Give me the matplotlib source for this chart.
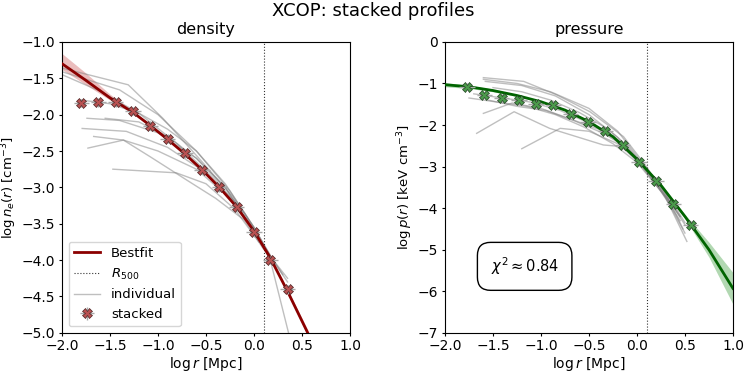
import numpy as np
import matplotlib
matplotlib.use("Agg")
import matplotlib.pyplot as plt

# stacked points (log r [Mpc], log value)
ne_r = [-1.80, -1.62, -1.44, -1.26, -1.08, -0.90, -0.72, -0.54, -0.36, -0.18, 0.0, 0.17, 0.35]
ne_y = [-1.84, -1.83, -1.83, -1.95, -2.15, -2.33, -2.53, -2.76, -3.00, -3.27, -3.62, -4.00, -4.40]
p_r = [-1.77, -1.59, -1.41, -1.23, -1.05, -0.87, -0.69, -0.51, -0.33, -0.15, 0.02, 0.20, 0.38, 0.56]
p_y = [-1.08, -1.28, -1.34, -1.41, -1.49, -1.52, -1.74, -1.93, -2.14, -2.48, -2.90, -3.34, -3.90, -4.40]

# best fit curves and band half widths
ne_fit_r = [-2.0, -1.75, -1.5, -1.26, -1.08, -0.9, -0.72, -0.54, -0.36, -0.18, 0.0, 0.17, 0.35, 0.56]
ne_fit_y = [-1.30, -1.53, -1.77, -1.97, -2.15, -2.34, -2.54, -2.76, -3.00, -3.27, -3.60, -3.97, -4.43, -5.00]
ne_fit_lo = [0.08, 0.06, 0.03, 0.01, 0.01, 0.01, 0.01, 0.01, 0.01, 0.01, 0.01, 0.02, 0.03, 0.04]
ne_fit_hi = [0.14, 0.10, 0.05, 0.02, 0.01, 0.01, 0.01, 0.01, 0.01, 0.01, 0.01, 0.02, 0.03, 0.04]
p_fit_r = [-2.0, -1.75, -1.5, -1.25, -1.0, -0.75, -0.5, -0.25, 0.0, 0.25, 0.5, 0.75, 1.0]
p_fit_y = [-1.03, -1.08, -1.17, -1.29, -1.44, -1.64, -1.92, -2.28, -2.82, -3.45, -4.20, -5.00, -5.93]
p_fit_err = [0.05, 0.04, 0.03, 0.02, 0.02, 0.02, 0.02, 0.02, 0.02, 0.03, 0.05, 0.18, 0.38]

# individual clusters
ne_ind = [
    ([-2.0, -1.31, -0.95, -0.56, -0.22, 0.0, 0.17, 0.35], [-1.36, -1.59, -2.05, -2.62, -3.13, -3.55, -3.95, -4.30]),
    ([-2.0, -1.40, -1.0, -0.6, -0.25, 0.0, 0.17], [-1.41, -1.66, -2.00, -2.50, -3.05, -3.55, -3.95]),
    ([-2.0, -1.6, -1.2, -0.8, -0.4, -0.1, 0.1, 0.3], [-1.45, -1.68, -1.98, -2.40, -2.90, -3.35, -3.80, -4.20]),
    ([-1.74, -1.4, -1.0, -0.6, -0.3, 0.0, 0.17], [-2.05, -2.08, -2.25, -2.60, -3.00, -3.60, -3.95]),
    ([-1.79, -1.33, -0.9, -0.5, -0.2, 0.0], [-2.19, -2.23, -2.45, -2.80, -3.20, -3.60]),
    ([-1.67, -1.36, -1.0, -0.6, -0.25, 0.0, 0.17, 0.36], [-2.30, -2.35, -2.50, -2.75, -3.15, -3.60, -4.00, -5.00]),
    ([-1.73, -1.36, -1.08, -0.7, -0.4, -0.1, 0.1], [-2.46, -2.35, -2.58, -2.90, -3.15, -3.45, -3.85]),
    ([-1.47, -0.81, -0.5, -0.2, 0.05], [-2.75, -2.80, -2.95, -3.30, -3.75]),
    ([-1.8, -1.5, -1.2, -0.9, -0.6, -0.3, 0.0, 0.2, 0.35], [-1.80, -1.85, -1.98, -2.20, -2.50, -2.95, -3.55, -4.00, -4.25]),
    ([-1.55, -1.2, -0.9, -0.6, -0.3, -0.05], [-2.05, -2.10, -2.30, -2.60, -3.00, -3.50]),
]
p_ind = [
    ([-1.60, -1.18, -0.84, -0.49, -0.14, 0.10, 0.30, 0.52], [-0.86, -0.95, -1.27, -1.68, -2.28, -3.00, -3.75, -4.80]),
    ([-1.60, -1.25, -0.9, -0.5, -0.2, 0.05, 0.3, 0.48], [-0.90, -1.00, -1.20, -1.60, -2.15, -2.90, -3.65, -4.50]),
    ([-1.58, -1.2, -0.85, -0.5, -0.2, 0.05, 0.3, 0.5], [-0.95, -1.05, -1.30, -1.75, -2.30, -2.95, -3.75, -4.60]),
    ([-1.67, -1.28, -0.91, -0.35, -0.14, 0.05, 0.25, 0.45], [-2.20, -1.68, -2.08, -2.48, -2.52, -3.00, -3.60, -4.30]),
    ([-1.20, -0.80, -0.5, -0.2, 0.0, 0.2, 0.45], [-2.57, -2.08, -2.15, -2.45, -2.85, -3.40, -4.20]),
    ([-1.60, -1.3, -1.0, -0.7, -0.4, -0.15, 0.05, 0.3, 0.5], [-1.72, -1.47, -1.60, -1.85, -2.10, -2.45, -2.95, -3.70, -4.40]),
    ([-1.70, -1.4, -1.1, -0.8, -0.5, -0.2, 0.0, 0.25, 0.45], [-1.25, -1.35, -1.45, -1.65, -1.95, -2.35, -2.80, -3.50, -4.20]),
    ([-1.75, -1.45, -1.15, -0.85, -0.55, -0.25, 0.0, 0.2, 0.4], [-1.35, -1.45, -1.55, -1.75, -2.05, -2.45, -2.90, -3.45, -4.00]),
    ([-1.5, -1.2, -0.9, -0.6, -0.3, -0.1, 0.1, 0.35], [-1.10, -1.20, -1.40, -1.70, -2.10, -2.50, -3.10, -3.90]),
    ([-1.55, -1.25, -0.95, -0.65, -0.35, -0.1, 0.1, 0.3, 0.5], [-1.40, -1.55, -1.65, -1.90, -2.20, -2.55, -3.05, -3.60, -4.35]),
]
r500 = 0.1
chi2 = 0.84

plt.rcParams["xtick.major.size"] = 2.5
plt.rcParams["ytick.major.size"] = 2.5
plt.rcParams["xtick.major.pad"] = 2
plt.rcParams["ytick.major.pad"] = 2.5
plt.rcParams["axes.labelpad"] = 1.5

fig = plt.figure(figsize=(7.47, 3.74), dpi=100)
ax1 = fig.add_axes([0.083, 0.11, 0.3855, 0.778])
ax2 = fig.add_axes([0.5957, 0.11, 0.3855, 0.778])
fig.suptitle("XCOP: stacked profiles", fontsize=13, y=0.995)

# density
ax = ax1
for xs, ys in ne_ind:
    ax.plot(xs, ys, color="gray", alpha=0.5, lw=1)
ax.plot([], [], color="gray", alpha=0.5, lw=1, label="individual")
lo = np.array(ne_fit_y) - np.array(ne_fit_lo)
hi = np.array(ne_fit_y) + np.array(ne_fit_hi)
ax.fill_between(ne_fit_r, lo, hi, color="indianred", alpha=0.4, lw=0)
ax.plot(ne_fit_r, ne_fit_y, color="darkred", lw=2, label="Bestfit", zorder=4)
ax.axvline(r500, color="k", ls=":", lw=0.8, alpha=0.8, label="$R_{500}$")
ax.errorbar(ne_r, ne_y, xerr=0.08, yerr=0.06, fmt="X", ms=7, mfc="#b85252",
            mec="#4a2020", mew=0.5, ecolor="darkgray", elinewidth=1, label="stacked", zorder=5)
ax.set_xlim(-2, 1)
ax.set_ylim(-5, -1)
ax.set_xlabel(r"$\log r$ [Mpc]")
ax.set_ylabel(r"$\log n_e(r)$ [cm$^{-3}$]", fontsize=9.5)
ax.set_title("density", fontsize=11.5)
h, l = ax.get_legend_handles_labels()
order = [l.index(k) for k in ["Bestfit", "$R_{500}$", "individual", "stacked"]]
ax.legend([h[i] for i in order], [l[i] for i in order], loc="lower left", fontsize=9.5)

# pressure
ax = ax2
for xs, ys in p_ind:
    ax.plot(xs, ys, color="gray", alpha=0.5, lw=1)
pe = np.array(p_fit_err)
ax.fill_between(p_fit_r, np.array(p_fit_y) - pe, np.array(p_fit_y) + pe, color="green", alpha=0.3, lw=0)
ax.plot(p_fit_r, p_fit_y, color="darkgreen", lw=2, zorder=4)
ax.axvline(r500, color="k", ls=":", lw=0.8, alpha=0.8)
ax.errorbar(p_r, p_y, xerr=0.08, yerr=0.08, fmt="X", ms=7, mfc="#4c9a4c",
            mec="#1f3f1f", mew=0.5, ecolor="darkgray", elinewidth=1, zorder=5)
ax.text(-1.17, -5.4, r"$\chi^2 \approx %.2f$" % chi2, ha="center", va="center", fontsize=10.5,
        bbox=dict(boxstyle="round,pad=0.9", fc="white", ec="k"))
ax.set_xlim(-2, 1)
ax.set_ylim(-7, 0)
ax.set_xlabel(r"$\log r$ [Mpc]")
ax.set_ylabel(r"$\log p(r)$ [keV cm$^{-3}$]", fontsize=9.5)
ax.set_title("pressure", fontsize=11.5)

fig.savefig("out.png", dpi=100)
